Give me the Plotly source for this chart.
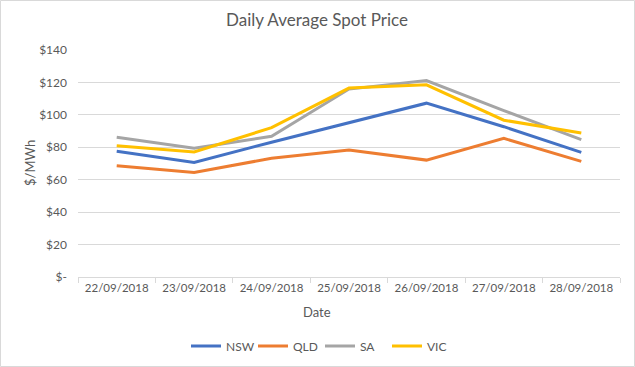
import plotly.graph_objects as go

dates = ["22/09/2018", "23/09/2018", "24/09/2018", "25/09/2018",
         "26/09/2018", "27/09/2018", "28/09/2018"]
nsw = [77.5, 70.7, 83.1, 95.0, 107.2, 92.7, 76.9]
qld = [68.6, 64.5, 73.2, 78.3, 72.1, 85.5, 71.3]
sa = [86.2, 79.4, 86.8, 115.9, 121.2, 102.6, 84.7]
vic = [81.0, 77.1, 92.1, 116.5, 118.5, 96.7, 88.8]

y_ticks = [0, 20, 40, 60, 80, 100, 120, 140]
y_tick_text = ["$-", "$20", "$40", "$60", "$80", "$100", "$120", "$140"]

series = [("NSW", nsw, "#4472C4"), ("QLD", qld, "#ED7D31"),
          ("SA", sa, "#A5A5A5"), ("VIC", vic, "#FFC000")]

W, H = 635, 367
L, R, T, B = 78, 15, 50, 90
pw, ph = W - L - R, H - T - B

fig = go.Figure()
for name, vals, col in series:
    fig.add_trace(go.Scatter(x=dates, y=vals, name=name, mode="lines",
                             line=dict(color=col, width=3)))

font_col = "#595959"
fig.update_layout(
    width=W, height=H,
    margin=dict(l=L, r=R, t=T, b=B, autoexpand=False),
    paper_bgcolor="white", plot_bgcolor="white",
    font=dict(family="Lato, Carlito, Calibri, sans-serif", size=12, color=font_col),
    title=dict(text="Daily Average Spot Price", x=(317) / W, xref="container",
               xanchor="center", y=1 - 20 / H, yref="container", yanchor="middle",
               font=dict(size=17, color=font_col)),
    showlegend=True,
    legend=dict(orientation="h", x=(320 - L) / pw, xanchor="center",
                y=(H - B - 346) / ph, yanchor="middle",
                font=dict(size=12, color=font_col), itemwidth=30,
                entrywidth=22, entrywidthmode="pixels",
                traceorder="normal"),
    xaxis=dict(type="category", range=[-0.5, 6.5], showgrid=False,
               showline=True, linecolor="#d9d9d9", linewidth=1,
               ticks="outside", tickson="boundaries", ticklen=5,
               tickcolor="#d9d9d9", tickfont=dict(size=11.5, color=font_col),
               automargin=False, fixedrange=True),
    yaxis=dict(range=[0, 140], tickvals=y_ticks, ticktext=y_tick_text,
               showgrid=True, gridcolor="#d9d9d9", gridwidth=1,
               zeroline=False, showline=False, ticks="",
               ticklabelstandoff=10, automargin=False,
               tickfont=dict(size=12, color=font_col), fixedrange=True),
    annotations=[
        dict(text="Date", xref="paper", yref="paper", x=(317 - L) / pw,
             y=(H - B - 312) / ph, xanchor="center", yanchor="middle",
             showarrow=False, font=dict(size=13, color=font_col)),
        dict(text="$/MWh", xref="paper", yref="paper", x=(30 - L) / pw,
             y=(H - B - 163) / ph, xanchor="center", yanchor="middle",
             textangle=-90, showarrow=False, font=dict(size=13, color=font_col)),
    ],
    shapes=[dict(type="rect", xref="paper", yref="paper",
                 x0=(0.5 - L) / pw, x1=(W - 0.5 - L) / pw,
                 y0=(H - B - (H - 0.5)) / ph, y1=(H - B - 0.5) / ph,
                 line=dict(color="#d9d9d9", width=1), layer="below")],
)

fig.write_html("out.html", config={"displayModeBar": False},
               post_script="document.body.style.margin='0';"
                           "document.body.style.overflow='hidden';")
